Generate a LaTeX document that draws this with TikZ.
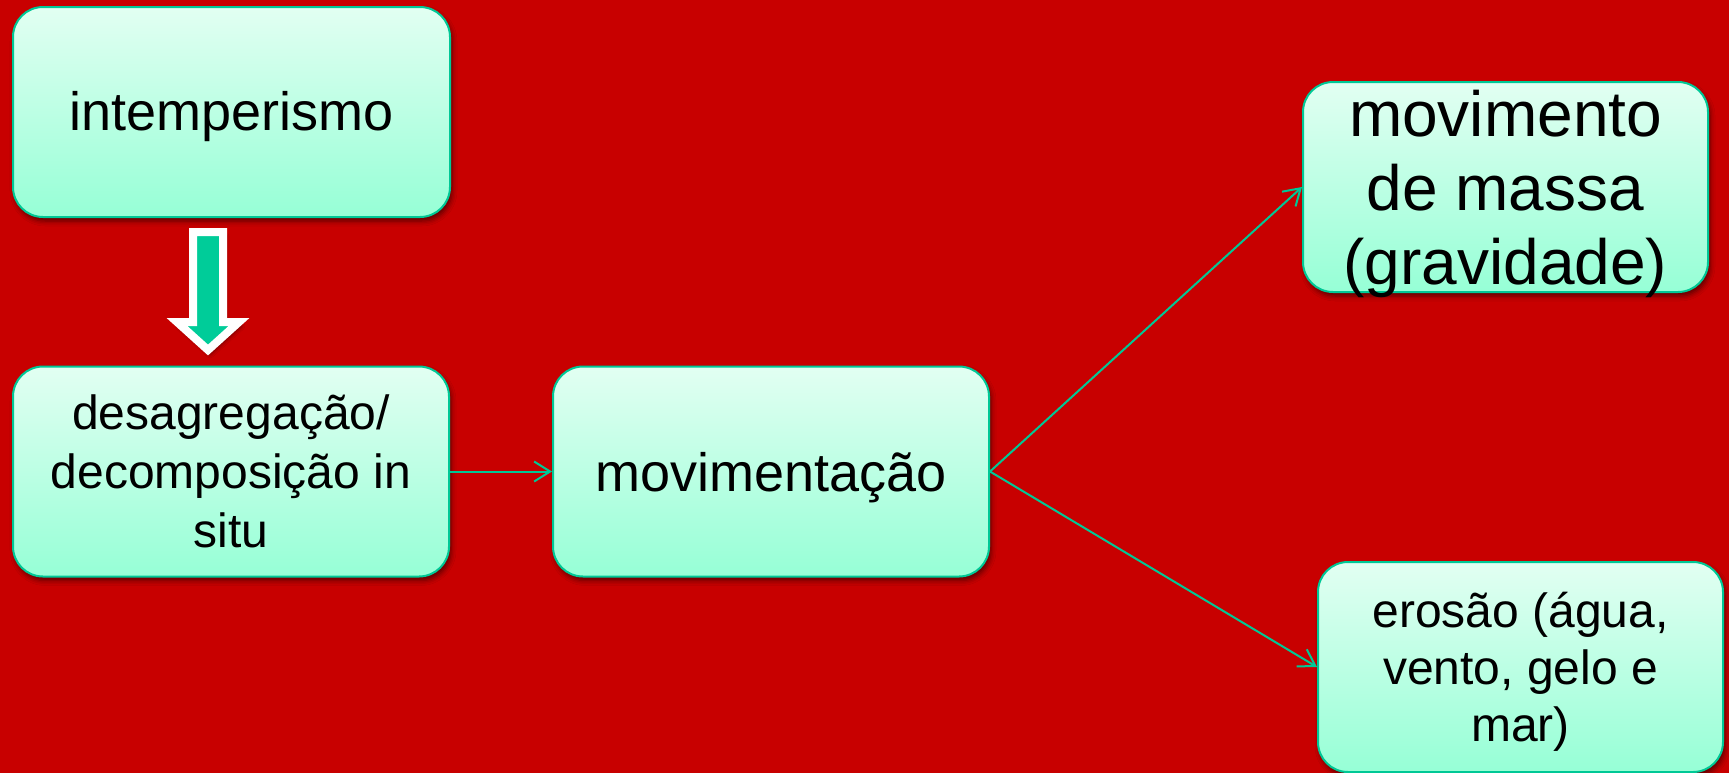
\documentclass[tikz,border=0pt]{standalone}
\usepackage{fontspec}
\setmainfont{Liberation Sans}
\usetikzlibrary{arrows.meta,shadows.blur}
\definecolor{bg}{RGB}{200,0,0}
\definecolor{edge}{RGB}{0,200,150}
\definecolor{boxtop}{RGB}{226,255,242}
\definecolor{boxbot}{RGB}{150,255,214}
\definecolor{arrowfill}{RGB}{0,204,153}
\begin{document}
\begin{tikzpicture}[x=1pt,y=-1pt,
  box/.style={rectangle, rounded corners=30pt, draw=edge, line width=2pt,
    top color=boxtop, bottom color=boxbot, minimum height=210pt, inner sep=0pt,
    blur shadow={shadow xshift=2pt, shadow yshift=-4pt, shadow blur radius=5pt, shadow opacity=55}},
  txt/.style={align=center, text=black, inner sep=0pt},
  big/.style={font=\fontsize{54}{65}\selectfont},
  mid/.style={font=\fontsize{48}{59}\selectfont},
  huge/.style={font=\fontsize{64}{74}\selectfont},
  link/.style={draw=edge, line width=2pt, -{Straight Barb[length=16pt,width=20pt,line width=2pt]}},
]
% background
\useasboundingbox (0,0) rectangle (1729,772);
\fill[bg] (-3,-3) rectangle (1732,775);

% boxes
\node[box, minimum width=437pt] (b1) at (231.5,112) {};
\node[box, minimum width=436pt] (b2) at (231,471.5) {};
\node[box, minimum width=436pt] (b3) at (771,471.5) {};
\node[box, minimum width=405pt] (b4) at (1505.5,187) {};
\node[box, minimum width=405pt] (b5) at (1520.5,667) {};

% texts
\node[txt, big, yshift=-5pt] (t1) at (b1) {intemperismo};
\node[txt, mid] (t2) at (b2) {desagregação/\\decomposição in\\situ};
\node[txt, big, yshift=-6pt] (t3) at (b3) {movimentação};
\node[txt, huge, yshift=-7pt] (t4) at (b4) {movimento\\de massa\\(gravidade)};
\node[txt, font=\fontsize{48}{57}\selectfont, yshift=-5pt] (t5) at (b5) {erosão (água,\\vento, gelo e\\mar)};

% block arrow between the first two boxes
\path[draw=white, line width=8pt, fill=arrowfill, line join=miter,
  blur shadow={shadow xshift=2pt, shadow yshift=-4pt, shadow blur radius=4pt, shadow opacity=55}]
  (193,232) -- (223,232) -- (223,322) -- (239,322) -- (208,350) -- (177,322) -- (193,322) -- cycle;

% connectors
\draw[link] (b2.east) -- (b3.west);
\draw[link] (b3.east) -- (b4.west);
\draw[link] (b3.east) -- (b5.west);
\end{tikzpicture}
\end{document}
